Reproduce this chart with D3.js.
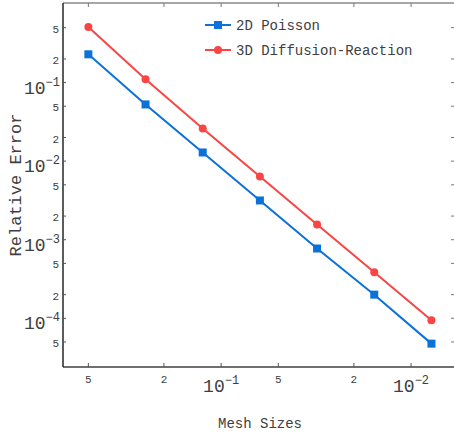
<!DOCTYPE html>
<html>
<head>
<meta charset="utf-8">
<script src="https://cdn.jsdelivr.net/npm/d3@7"></script>
<style>
  body { margin: 0; background: #fff; }
  text { font-family: "Liberation Mono", monospace; fill: #404040; }
</style>
</head>
<body>
<script>
const meshSizes = [1/2, 1/4, 1/8, 1/16, 1/32, 1/64, 1/128];
const poisson2D = [0.229, 0.0527, 0.0129, 0.00316, 0.000773, 0.000200, 0.0000476];
const diffReact3D = [0.51, 0.110, 0.0261, 0.00638, 0.00156, 0.000385, 0.0000944];
const seriesNames = ["2D Poisson", "3D Diffusion-Reaction"];
const xTickValues = [0.5, 0.2, 0.1, 0.05, 0.02, 0.01];
const yTickValues = [0.5, 0.2, 0.1, 0.05, 0.02, 0.01, 0.005, 0.002, 0.001,
  0.0005, 0.0002, 0.0001, 0.00005];

const w = 454, h = 435;
const pLeft = 63, pRight = 456, pTop = 3, pBottom = 367;
const blue = "#0a72d8", red = "#fb4444";

const svg = d3.select("body").append("svg")
  .attr("width", w).attr("height", h);

const xScale = d3.scaleLog().domain([0.68, 0.0058]).range([pLeft, pRight]);
const yScale = d3.scaleLog().domain([2.4e-5, 1.03]).range([pBottom, pTop]);

const isDecade = v => Math.abs(Math.log10(v) - Math.round(Math.log10(v))) < 1e-6;
const mantissa = v => Math.round(v / Math.pow(10, Math.floor(Math.log10(v) + 1e-9)));

// frame
svg.append("line").attr("x1", pLeft).attr("x2", pRight).attr("y1", pTop).attr("y2", pTop)
  .attr("stroke", "#8a8a8a").attr("stroke-width", 1.5);
svg.append("line").attr("x1", pLeft).attr("x2", pRight).attr("y1", pBottom).attr("y2", pBottom)
  .attr("stroke", "#404040").attr("stroke-width", 1.5);
svg.append("line").attr("x1", pLeft).attr("x2", pLeft).attr("y1", pTop).attr("y2", pBottom)
  .attr("stroke", "#262626").attr("stroke-width", 1.5);

// x ticks
const xt = svg.append("g");
xTickValues.forEach(v => {
  const x = xScale(v);
  xt.append("line").attr("x1", x).attr("x2", x).attr("y1", pBottom).attr("y2", pBottom - 4)
    .attr("stroke", "#555");
  xt.append("line").attr("x1", x).attr("x2", x).attr("y1", pTop).attr("y2", pTop + 4)
    .attr("stroke", "#777");
  if (isDecade(v)) {
    const t = xt.append("text").attr("x", x).attr("y", 392).attr("text-anchor", "middle")
      .attr("font-size", 18);
    t.append("tspan").text("10");
    t.append("tspan").attr("dy", -8).attr("font-size", 12).text(String(Math.round(Math.log10(v))).replace("-", "\u2212"));
  } else {
    xt.append("text").attr("x", x).attr("y", 383).attr("text-anchor", "middle")
      .attr("font-size", 11).text(mantissa(v));
  }
});

// y ticks
const yt = svg.append("g");
yTickValues.forEach(v => {
  const y = yScale(v);
  yt.append("line").attr("x1", pLeft).attr("x2", pLeft + 3).attr("y1", y).attr("y2", y)
    .attr("stroke", "#555");
  yt.append("line").attr("x1", 454).attr("x2", 451).attr("y1", y).attr("y2", y)
    .attr("stroke", "#777");
  if (isDecade(v)) {
    const t = yt.append("text").attr("x", 60).attr("y", y + 11).attr("text-anchor", "end")
      .attr("font-size", 18);
    t.append("tspan").text("10");
    t.append("tspan").attr("dy", -8).attr("font-size", 12).text(String(Math.round(Math.log10(v))).replace("-", "\u2212"));
  } else {
    yt.append("text").attr("x", 59).attr("y", y + 5).attr("text-anchor", "end")
      .attr("font-size", 11).text(mantissa(v));
  }
});

// axis titles
svg.append("text").attr("x", 260).attr("y", 428).attr("text-anchor", "middle")
  .attr("font-size", 14).text("Mesh Sizes");
svg.append("text").attr("transform", "translate(21,185) rotate(-90)")
  .attr("text-anchor", "middle").attr("font-size", 17).text("Relative Error");

// series
const line = d3.line().x(d => xScale(d[0])).y(d => yScale(d[1]));
const s1 = meshSizes.map((m, i) => [m, poisson2D[i]]);
const s2 = meshSizes.map((m, i) => [m, diffReact3D[i]]);

svg.append("path").datum(s2).attr("d", line).attr("fill", "none")
  .attr("stroke", red).attr("stroke-width", 2);
svg.selectAll(".dot").data(s2).enter().append("circle")
  .attr("cx", d => xScale(d[0])).attr("cy", d => yScale(d[1])).attr("r", 4)
  .attr("fill", red);

svg.append("path").datum(s1).attr("d", line).attr("fill", "none")
  .attr("stroke", blue).attr("stroke-width", 2);
svg.selectAll(".sq").data(s1).enter().append("rect")
  .attr("x", d => xScale(d[0]) - 4).attr("y", d => yScale(d[1]) - 4)
  .attr("width", 8).attr("height", 8).attr("fill", blue);

// legend
const legend = svg.append("g");
[[blue, "square"], [red, "circle"]].forEach((c, i) => {
  const y = 25 + i * 25;
  legend.append("line").attr("x1", 205).attr("x2", 231).attr("y1", y).attr("y2", y)
    .attr("stroke", c[0]).attr("stroke-width", 2);
  if (c[1] === "square") {
    legend.append("rect").attr("x", 214).attr("y", y - 4).attr("width", 8).attr("height", 8)
      .attr("fill", c[0]);
  } else {
    legend.append("circle").attr("cx", 218).attr("cy", y).attr("r", 4).attr("fill", c[0]);
  }
  legend.append("text").attr("x", 236).attr("y", y + 5).attr("font-size", 14)
    .text(seriesNames[i]);
});
</script>
</body>
</html>
